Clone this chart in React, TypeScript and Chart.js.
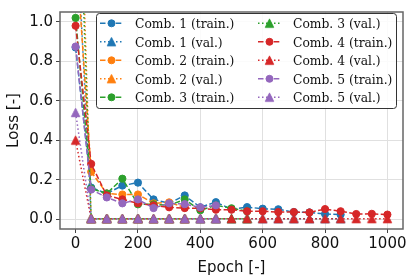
import React, { useEffect, useRef } from "react";
import { Chart, registerables } from "chart.js";

Chart.register(...registerables);

const epochs = [0, 50, 100, 150, 200, 250, 300, 350, 400, 450, 500, 550, 600, 650, 700, 750, 800, 850, 900, 950, 1000];

const comb1Train = [0.87, 0.16, 0.13, 0.17, 0.185, 0.1, 0.08, 0.12, 0.06, 0.086, 0.05, 0.061, 0.053, 0.05, 0.036, 0.034, 0.026, 0.023];
const comb1Val = [1.6, 0.002, 0.002, 0.002, 0.002, 0.002, 0.002, 0.002, 0.002, 0.002, 0.002, 0.002, 0.002, 0.002, 0.002, 0.002, 0.002, 0.002];
const comb2Train = [1.4, 0.24, 0.13, 0.125, 0.125, 0.08, 0.085, 0.06];
const comb2Val = [2.5, 0.002, 0.002, 0.002, 0.002, 0.002, 0.002, 0.002];
const comb3Train = [1.02, 0.155, 0.13, 0.205, 0.075, 0.075, 0.07, 0.1, 0.045, 0.07, 0.055, 0.04];
const comb3Val = [2.2, 0.002, 0.002, 0.002, 0.002, 0.002, 0.002, 0.002, 0.002, 0.002, 0.002, 0.002];
const comb4Train = [0.98, 0.28, 0.12, 0.1, 0.08, 0.07, 0.06, 0.056, 0.055, 0.048, 0.048, 0.04, 0.04, 0.036, 0.036, 0.034, 0.051, 0.04, 0.026, 0.027, 0.023];
const comb4Val = [0.4, 0.002, 0.002, 0.002, 0.002, 0.002, 0.002, 0.002, 0.002, 0.002, 0.002, 0.002, 0.002, 0.002, 0.002, 0.002, 0.002, 0.002, 0.002, 0.002, 0.002];
const comb5Train = [0.875, 0.15, 0.11, 0.08, 0.1, 0.056, 0.08, 0.076, 0.06, 0.07];
const comb5Val = [0.54, 0.002, 0.002, 0.002, 0.002, 0.002, 0.002, 0.002, 0.002, 0.002];

const xTicks = [0, 200, 400, 600, 800, 1000];
const yTicks = [0, 0.2, 0.4, 0.6, 0.8, 1.0];

const seriesNames = [
  "Comb. 1 (train.)", "Comb. 1 (val.)",
  "Comb. 2 (train.)", "Comb. 2 (val.)",
  "Comb. 3 (train.)", "Comb. 3 (val.)",
  "Comb. 4 (train.)", "Comb. 4 (val.)",
  "Comb. 5 (train.)", "Comb. 5 (val.)",
];
const seriesValues = [comb1Train, comb1Val, comb2Train, comb2Val, comb3Train, comb3Val, comb4Train, comb4Val, comb5Train, comb5Val];
const colors = ["#1f77b4", "#ff7f0e", "#2ca02c", "#d62728", "#9467bd"];

const DASH = [5.5, 2.4];
const DOT = [1.5, 2.5];
const TICK_FONT = { family: "'DejaVu Sans', sans-serif", size: 15 };

function makeTriangle(color: string): HTMLCanvasElement {
  const c = document.createElement("canvas");
  c.width = 11;
  c.height = 11;
  const g = c.getContext("2d")!;
  g.beginPath();
  g.moveTo(5.5, 1.2);
  g.lineTo(1.3, 9.6);
  g.lineTo(9.7, 9.6);
  g.closePath();
  g.fillStyle = color;
  g.fill();
  g.strokeStyle = color;
  g.lineWidth = 1;
  g.lineJoin = "miter";
  g.stroke();
  return c;
}

export default function App() {
  const ref = useRef<HTMLCanvasElement | null>(null);

  useEffect(() => {
    const canvas = ref.current!;
    const triangles = colors.map(makeTriangle);

    const datasets = seriesValues.map((vals, i) => {
      const color = colors[Math.floor(i / 2)];
      const isVal = i % 2 === 1;
      return {
        label: seriesNames[i],
        data: vals.map((v, k) => ({ x: epochs[k], y: v })),
        borderColor: color,
        backgroundColor: color,
        pointBackgroundColor: color,
        pointBorderColor: color,
        borderWidth: 1.5,
        borderDash: isVal ? DOT : DASH,
        pointStyle: isVal ? triangles[Math.floor(i / 2)] : "circle",
        pointRadius: 3.6,
        pointBorderWidth: 1,
        tension: 0,
        fill: false,
        order: 9 - i,
      };
    });

    const framePlugin = {
      id: "frame",
      afterDatasetsDraw(chart: any) {
        const { ctx, chartArea: a } = chart;
        ctx.save();
        ctx.strokeStyle = "#666";
        ctx.lineWidth = 1.5;
        ctx.strokeRect(a.left, a.top, a.right - a.left, a.bottom - a.top);
        ctx.restore();
      },
    };

    const legendPlugin = {
      id: "customLegend",
      afterDraw(chart: any) {
        const ctx = chart.ctx as CanvasRenderingContext2D;
        ctx.save();
        const bx = 96.5, by = 13.5, bw = 300, bh = 95;
        ctx.beginPath();
        (ctx as any).roundRect(bx, by, bw, bh, 3);
        ctx.fillStyle = "rgba(255,255,255,0.85)";
        ctx.fill();
        ctx.strokeStyle = "#333";
        ctx.lineWidth = 1;
        ctx.stroke();
        ctx.font = "12.3px 'DejaVu Serif', serif";
        ctx.textBaseline = "alphabetic";
        ctx.textAlign = "left";
        seriesNames.forEach((name, i) => {
          const col = i < 5 ? 0 : 1;
          const row = i % 5;
          const y = 23.3 + row * 18.5;
          const x0 = col ? 258 : 100;
          const x1 = x0 + 23;
          const mx = (x0 + x1) / 2;
          const color = colors[Math.floor(i / 2)];
          const isVal = i % 2 === 1;
          ctx.beginPath();
          ctx.setLineDash(isVal ? DOT : DASH);
          ctx.strokeStyle = color;
          ctx.lineWidth = 1.5;
          ctx.moveTo(x0, y);
          ctx.lineTo(x1, y);
          ctx.stroke();
          ctx.setLineDash([]);
          if (isVal) {
            const t = triangles[Math.floor(i / 2)];
            ctx.drawImage(t, mx - t.width / 2, y - t.height / 2);
          } else {
            ctx.beginPath();
            ctx.arc(mx, y, 3.5, 0, Math.PI * 2);
            ctx.fillStyle = color;
            ctx.fill();
            ctx.lineWidth = 1;
            ctx.stroke();
          }
          ctx.fillStyle = "#111";
          ctx.fillText(name, col ? 293 : 135, y + 4.8);
        });
        ctx.restore();
      },
    };

    const chart = new Chart(canvas, {
      type: "line",
      data: { datasets: datasets as any },
      options: {
        responsive: false,
        animation: false,
        devicePixelRatio: 1,
        layout: { padding: { left: 0, right: 12, top: 8, bottom: 0 } },
        plugins: { legend: { display: false }, tooltip: { enabled: false } },
        scales: {
          x: {
            type: "linear",
            min: -50,
            max: 1050,
            afterBuildTicks: (s: any) => {
              s.ticks = xTicks.map((v) => ({ value: v }));
            },
            afterFit: (s: any) => {
              s.height = 51;
            },
            ticks: {
              color: "#111",
              font: TICK_FONT,
              padding: 2,
              maxRotation: 0,
              autoSkip: false,
              callback: (v: any) => String(v),
            },
            grid: { color: "#e0e0e0", lineWidth: 1, tickLength: 4, tickColor: "#444", tickWidth: 1 },
            border: { display: false },
            title: {
              display: true,
              text: "Epoch [-]",
              color: "#111",
              font: TICK_FONT,
              padding: { top: 0, bottom: 3 },
            },
          },
          y: {
            type: "linear",
            min: -0.05,
            max: 1.05,
            afterBuildTicks: (s: any) => {
              s.ticks = yTicks.map((v) => ({ value: v }));
            },
            afterFit: (s: any) => {
              s.width = 60;
            },
            ticks: {
              color: "#111",
              font: TICK_FONT,
              padding: 3,
              autoSkip: false,
              callback: (v: any) => Number(v).toFixed(1),
            },
            grid: { color: "#e0e0e0", lineWidth: 1, tickLength: 4, tickColor: "#444", tickWidth: 1 },
            border: { display: false },
            title: {
              display: true,
              text: "Loss [-]",
              color: "#111",
              font: TICK_FONT,
              padding: { top: 5.5, bottom: 0 },
            },
          },
        },
      },
      plugins: [framePlugin, legendPlugin],
    });

    return () => chart.destroy();
  }, []);

  return (
    <div style={{ position: "fixed", left: 0, top: 0, width: 415, height: 280, background: "#fff" }}>
      <canvas ref={ref} width={415} height={280} style={{ width: 415, height: 280, display: "block" }} />
    </div>
  );
}
